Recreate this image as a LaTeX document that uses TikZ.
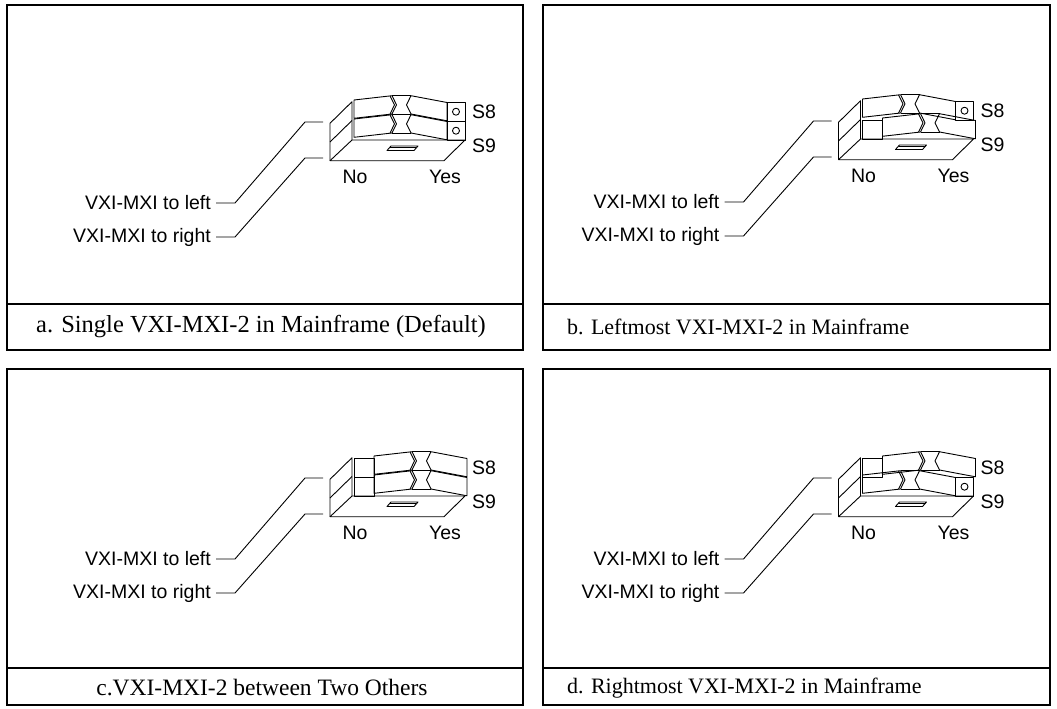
\documentclass[tikz,border=0pt]{standalone}
\usepackage{fontspec}
\setmainfont{Liberation Serif}
\newfontfamily\labelfont{Liberation Sans}

\tikzset{
  frame/.style={line width=1.3pt},
  part/.style={line width=0.9pt, line join=round},
  swlabel/.style={font=\labelfont\fontsize{19.5}{22}\selectfont, inner sep=0pt},
  captext/.style={font=\fontsize{#1}{28}\selectfont, inner sep=0pt},
  captext/.default=24,
}

% one rocker, left top corner at (#1,#2)
\newcommand{\rocker}[2]{%
  \begin{scope}[shift={(#1,#2)}]
    \draw[part] (0,0) -- (38,-4.3) -- (42.5,4.8) -- (38,14) -- (0,18.3) -- cycle;
    \draw[part] (36,-4.1) -- (40.5,4.8) -- (36,14.2);
    \draw[part] (38,-4.3) -- (57,-4.3) (38,14) -- (57,14);
    \draw[part] (57,-4.3) -- (52.5,4.8) -- (57,14) -- (93,20.8) -- (93,2.5) -- cycle;
  \end{scope}}

% one switch row: #1 = y offset, #2 = 0 (No) or 1 (Yes)
\newcommand{\swrow}[2]{%
  \ifnum#2=0
    \rocker{354}{100+#1}
    \draw[part] (447,102.5+#1) rectangle (465,121+#1);
    \draw[part] (456,111.7+#1) circle (3.5);
  \else
    \draw[part] (354,102.5+#1) rectangle (374,121+#1);
    \rocker{374}{100+#1}
  \fi}

% switch with its labels: #1,#2 = shift, #3 = S8, #4 = S9
\newcommand{\swpanel}[4]{%
  \begin{scope}[shift={(#1,#2)}]
    % base and side
    \draw[part] (352,140) -- (330,160.7) -- (444,160.7) -- (465,140) -- cycle;
    \draw[part] (330,160.7) -- (330,123.3) -- (352,101.7) -- (352,140);
    \draw[part] (330,142) -- (352,120.5);
    \draw[part] (387,150.5) -- (414,150.5) -- (418,146) -- (391,146) -- cycle;
    \draw[part] (390,147.6) -- (416,147.6);
    \swrow{0}{#3}
    \swrow{19}{#4}
    % labels
    \node[swlabel, anchor=west] (s8) at (472,111.7) {S8};
    \node[swlabel, anchor=west] (s9) at (472,146) {S9};
    \node[swlabel] (no) at (355,177) {No};
    \node[swlabel] (yes) at (445,177) {Yes};
    \node[swlabel, anchor=east] (toleft) at (211,203) {VXI-MXI to left};
    \node[swlabel, anchor=east] (toright) at (211,237) {VXI-MXI to right};
    \coordinate (lefttip) at (323,122);
    \coordinate (righttip) at (323,158);
    \draw[part] ([xshift=5pt]toleft.east) -- ++(19,0) -- (305,122) -- (lefttip);
    \draw[part] ([xshift=5pt]toright.east) -- ++(19,0) -- (305,158) -- (righttip);
  \end{scope}}

\begin{document}
\begin{tikzpicture}[x=1pt, y=-1pt]
  \useasboundingbox (0,0) rectangle (1057,709);

  % frames
  \draw[frame] (7,5) rectangle (523,350) (7,304) -- (523,304);
  \draw[frame] (543,5) rectangle (1050,350) (543,304) -- (1050,304);
  \draw[frame] (7,369) rectangle (523,705) (7,668) -- (523,668);
  \draw[frame] (543,369) rectangle (1050,705) (543,668) -- (1050,668);

  % switches
  \swpanel{0}{0}{0}{0}
  \swpanel{508.5}{-1}{0}{1}
  \swpanel{0}{356}{1}{1}
  \swpanel{508.5}{356}{1}{0}

  % captions
  \node[captext=24.5] (capa) at (261,327) {a. Single VXI-MXI-2 in Mainframe (Default)};
  \node[captext=22, anchor=west] (capb) at (567,327) {b. Leftmost VXI-MXI-2 in Mainframe};
  \node[captext=23.5] (capc) at (262,688) {c.VXI-MXI-2 between Two Others};
  \node[captext=22, anchor=west] (capd) at (567,688) {d. Rightmost VXI-MXI-2 in Mainframe};
\end{tikzpicture}
\end{document}
